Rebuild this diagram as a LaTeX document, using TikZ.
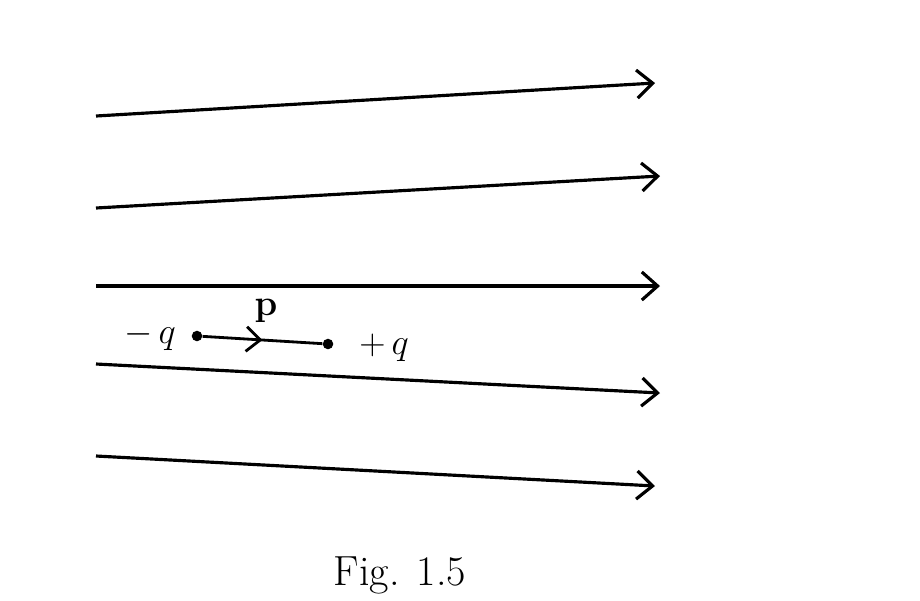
\documentclass[tikz,border=0pt]{standalone}
\usetikzlibrary{arrows.meta,decorations.markings}
\tikzset{
  fieldLine/.style={line width=1.8pt,-{Straight Barb[length=9pt,width=16pt,line width=1.8pt]}},
  dipoleAxis/.style={line width=1.6pt,decoration={markings,
      mark=at position .5 with {\arrow{Straight Barb[length=8pt,width=14pt,line width=1.6pt]}}},postaction={decorate}},
  charge/.style={circle,fill,inner sep=0pt,minimum size=6pt},
  chargeLabel/.style={font=\fontsize{22}{26}\selectfont}
}
\begin{document}
\begin{tikzpicture}[x=0.02cm,y=-0.02cm]
\useasboundingbox (0,0) rectangle (920,600);
% field lines
\coordinate (s1) at (96,116); \coordinate (e1) at (655,83);
\coordinate (s2) at (96,208); \coordinate (e2) at (660,176);
\coordinate (s3) at (96,286); \coordinate (e3) at (660,286);
\coordinate (s4) at (96,364); \coordinate (e4) at (660,393);
\coordinate (s5) at (96,456); \coordinate (e5) at (655,486);
\foreach \i in {1,...,5}
  \draw[fieldLine] (s\i) -- (e\i);
% dipole
\node[charge] (qminus) at (197,336) {};
\node[charge] (qplus) at (328,344) {};
\draw[dipoleAxis] (qminus) -- (qplus);
\node[chargeLabel] (lminus) at (150,336) {$-\,q$};
\node[chargeLabel] (lplus) at (384,348) {$+\,q$};
\node[chargeLabel] (p) at (266,311) {$\mathbf{p}$};
% caption
\node[font=\fontsize{24}{28}\selectfont] (caption) at (400,575) {Fig. 1.5};
\end{tikzpicture}
\end{document}
